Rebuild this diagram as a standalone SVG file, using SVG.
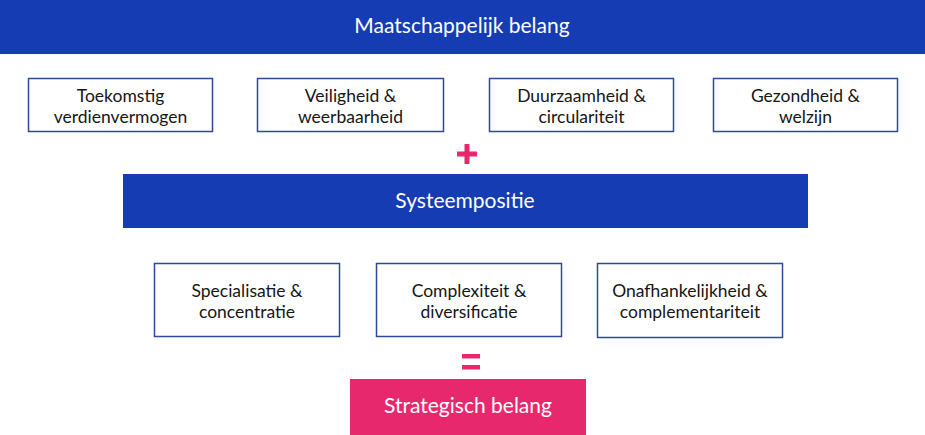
<svg xmlns="http://www.w3.org/2000/svg" width="925" height="435" viewBox="0 0 925 435">
<style>
.bar{fill:#163cb4}
.pink{fill:#e8286c}
.box{fill:#fff;stroke:#2c4a9c;stroke-width:1.5}
.wt{font-family:Lato,"Noto Sans",sans-serif;font-size:21px;fill:#fff;text-anchor:middle}
.bt{font-family:Lato,"Noto Sans",sans-serif;font-size:17.5px;fill:#161616;text-anchor:middle}
</style>
<rect width="925" height="435" fill="#fff"/>
<g id="maatschappelijk">
<rect class="bar" x="0" y="0" width="925" height="54"/>
<text class="wt" x="462" y="33">Maatschappelijk belang</text>
</g>
<g id="toekomstig">
<rect class="box" x="28.5" y="78.5" width="184" height="53"/>
<text class="bt" x="120.5" y="102">Toekomstig</text>
<text class="bt" x="120.5" y="123">verdienvermogen</text>
</g>
<g id="veiligheid">
<rect class="box" x="257.5" y="78.5" width="186" height="53"/>
<text class="bt" x="350.5" y="102">Veiligheid &amp;</text>
<text class="bt" x="350.5" y="123">weerbaarheid</text>
</g>
<g id="duurzaamheid">
<rect class="box" x="489.5" y="78.5" width="184" height="53"/>
<text class="bt" x="581.5" y="102">Duurzaamheid &amp;</text>
<text class="bt" x="581.5" y="123">circulariteit</text>
</g>
<g id="gezondheid">
<rect class="box" x="713.5" y="78.5" width="184" height="53"/>
<text class="bt" x="805.5" y="102">Gezondheid &amp;</text>
<text class="bt" x="805.5" y="123">welzijn</text>
</g>
<g id="plus">
<rect class="pink" x="457" y="151.5" width="20" height="5"/>
<rect class="pink" x="464.5" y="144" width="5" height="20"/>
</g>
<g id="systeempositie">
<rect class="bar" x="123" y="174" width="685" height="54"/>
<text class="wt" x="465" y="208">Systeempositie</text>
</g>
<g id="specialisatie">
<rect class="box" x="154.5" y="263.5" width="185" height="73"/>
<text class="bt" x="247" y="297">Specialisatie &amp;</text>
<text class="bt" x="247" y="318">concentratie</text>
</g>
<g id="complexiteit">
<rect class="box" x="376.5" y="263.5" width="185" height="73"/>
<text class="bt" x="469" y="297">Complexiteit &amp;</text>
<text class="bt" x="469" y="318">diversificatie</text>
</g>
<g id="onafhankelijkheid">
<rect class="box" x="597.5" y="263.5" width="185" height="74"/>
<text class="bt" x="690" y="297">Onafhankelijkheid &amp;</text>
<text class="bt" x="690" y="318">complementariteit</text>
</g>
<g id="equals">
<rect class="pink" x="462" y="354" width="18" height="4.5"/>
<rect class="pink" x="462" y="365" width="18" height="4.5"/>
</g>
<g id="strategisch">
<rect class="pink" x="350" y="379" width="236" height="56"/>
<text class="wt" x="468" y="413">Strategisch belang</text>
</g>
<g id="connectors"/>
</svg>
